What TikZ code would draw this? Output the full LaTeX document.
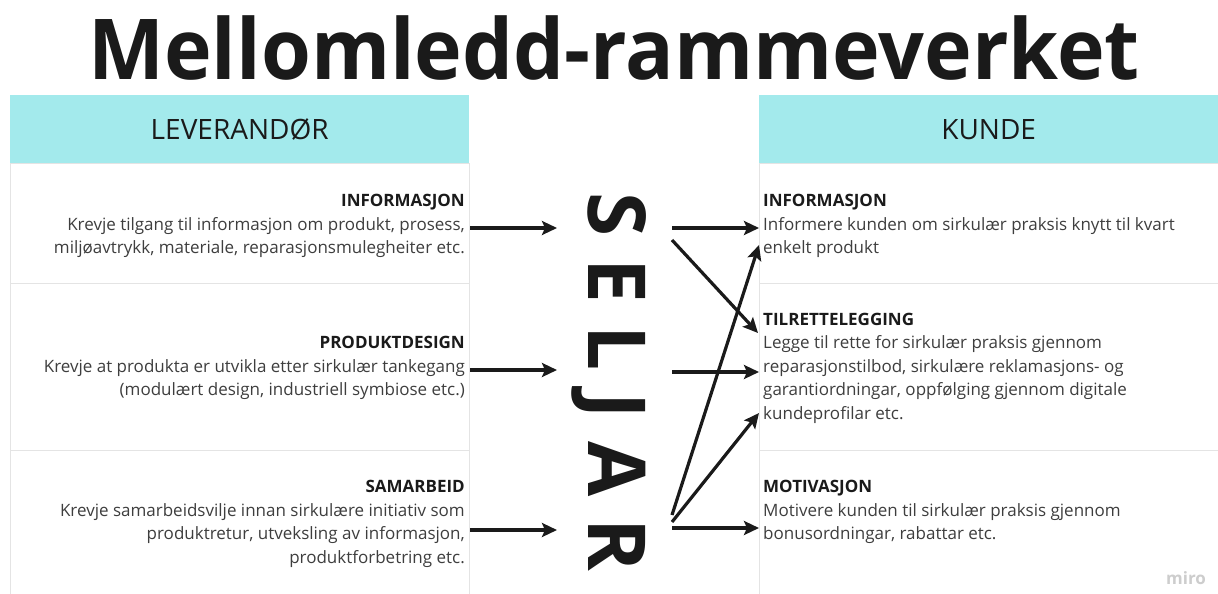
\documentclass[tikz,border=0pt]{standalone}
\usepackage{fontspec}
\setmainfont{Open Sans}
\usetikzlibrary{arrows.meta}
\definecolor{teal1}{RGB}{163,234,236}
\definecolor{gridc}{RGB}{228,228,228}
\definecolor{txt}{RGB}{62,62,62}
\definecolor{ttl}{RGB}{26,26,26}
\definecolor{mirogray}{RGB}{205,205,205}
\newcommand\hd[1]{{\bfseries\color{ttl}#1}}
\begin{document}
\begin{tikzpicture}[x=1pt,y=-1pt,
  hdr/.style={fill=teal1, minimum width=459pt, minimum height=68pt, anchor=north west, inner sep=0pt, font=\fontsize{28}{34}\selectfont, text=ttl},
  cell/.style={draw=gridc, line width=1.2pt, minimum width=459pt, anchor=north west, inner sep=0pt},
  ltext/.style={align=right, anchor=east, inner sep=0pt, font=\fontsize{17}{23.5}\selectfont, text=txt},
  rtext/.style={align=left, anchor=west, inner sep=0pt, font=\fontsize{17}{23.5}\selectfont, text=txt},
  arr/.style={line width=3.2pt, draw=ttl, -{Stealth[length=15pt,width=14pt,inset=3pt]}}
]
\useasboundingbox[fill=white] (0,0) rectangle (1218,594);

% title
\node[font=\fontsize{84}{90}\selectfont\bfseries, text=ttl, inner sep=0pt, xscale=0.96] (title) at (614,48) {Mellomledd-rammeverket};

% left table
\node[cell, minimum height=120pt] (lr1) at (10,163) {};
\node[cell, minimum height=167pt] (lr2) at (10,283) {};
\node[cell, minimum height=160pt] (lr3) at (10,450) {};
\node[hdr] (lhead) at (10,95) {LEVERANDØR};

% right table
\node[cell, minimum width=480pt, minimum height=120pt] (rr1) at (759,163) {};
\node[cell, minimum width=480pt, minimum height=167pt] (rr2) at (759,283) {};
\node[cell, minimum width=480pt, minimum height=160pt] (rr3) at (759,450) {};
\node[hdr] (rhead) at (759,95) {KUNDE};

% left texts
\node[ltext] (linfo) at (465,226) {\hd{INFORMASJON}\\Krevje tilgang til informasjon om produkt, prosess,\\miljøavtrykk, materiale, reparasjonsmulegheiter etc.};
\node[ltext] (ldesign) at (465,368) {\hd{PRODUKTDESIGN}\\Krevje at produkta er utvikla etter sirkulær tankegang\\(modulært design, industriell symbiose etc.)};
\node[ltext] (lsam) at (465,524) {\hd{SAMARBEID}\\Krevje samarbeidsvilje innan sirkulære initiativ som\\produktretur, utveksling av informasjon,\\produktforbetring etc.};

% right texts
\node[rtext] (rinfo) at (763,226) {\hd{INFORMASJON}\\Informere kunden om sirkulær praksis knytt til kvart\\enkelt produkt};
\node[rtext] (rtil) at (763,368) {\hd{TILRETTELEGGING}\\Legge til rette for sirkulær praksis gjennom\\reparasjonstilbod, sirkulære reklamasjons- og\\garantiordningar, oppfølging gjennom digitale\\kundeprofilar etc.};
\node[rtext] (rmot) at (763,512) {\hd{MOTIVASJON}\\Motivere kunden til sirkulær praksis gjennom\\bonusordningar, rabattar etc.};

% SELJAR
\node[rotate=-90, anchor=base, inner sep=0pt, font=\fontsize{80}{82}\selectfont\bfseries, text=ttl] (seljar) at (588,382) {S\hspace{22pt}E\hspace{22pt}L\hspace{22pt}J\hspace{22pt}A\hspace{22pt}R};

% miro mark
\node[font=\fontsize{17}{18}\selectfont\bfseries, text=mirogray, inner sep=0pt] (miro) at (1186,578) {miro};

% arrow ends
\coordinate (in1) at (557,228);
\coordinate (in2) at (557,370);
\coordinate (in3) at (557,530);
\coordinate (o1) at (672,228);
\coordinate (o2) at (672,240);
\coordinate (o3) at (672,372);
\coordinate (o4) at (672,515);
\coordinate (o5) at (672,522);
\coordinate (o6) at (672,528);
\coordinate (t1) at (759,228);
\coordinate (t2) at (758,333);
\coordinate (t3) at (759,372);
\coordinate (t4) at (759,245);
\coordinate (t5) at (759,413);
\coordinate (t6) at (759,528);

\draw[arr] (lr1.east |- in1) -- (in1);
\draw[arr] (lr2.east |- in2) -- (in2);
\draw[arr] (lr3.east |- in3) -- (in3);
\draw[arr] (o1) -- (t1);
\draw[arr] (o2) -- (t2);
\draw[arr] (o3) -- (t3);
\draw[arr] (o4) -- (t4);
\draw[arr] (o5) -- (t5);
\draw[arr] (o6) -- (t6);
\end{tikzpicture}
\end{document}
